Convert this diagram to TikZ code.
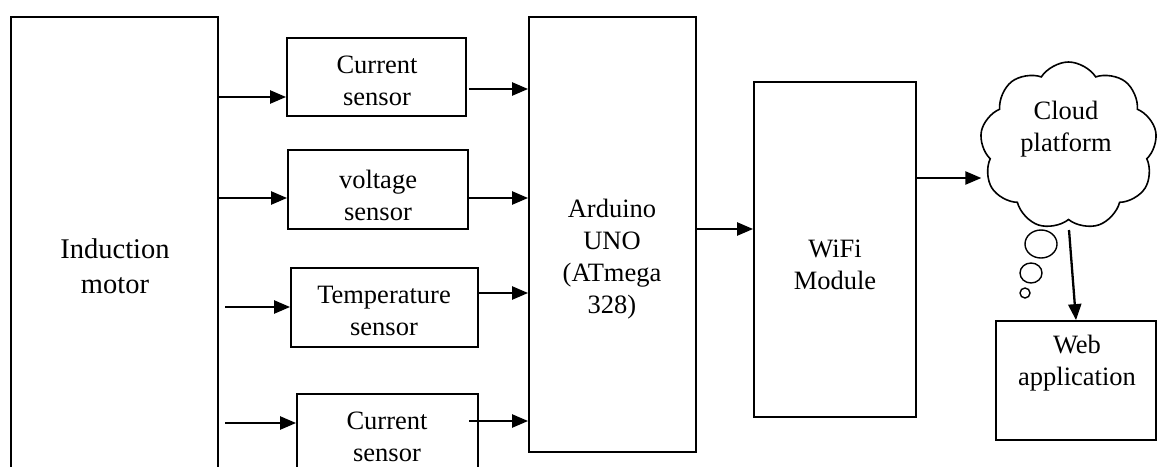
\documentclass[tikz,border=0pt]{standalone}
\usepackage{fontspec}
\setmainfont{Liberation Serif}
\usetikzlibrary{arrows.meta,shapes.symbols,shapes.geometric}
\begin{document}
\begin{tikzpicture}[x=1pt,y=-1pt,
  box/.style={draw,line width=1.8pt,inner sep=0pt},
  lbl/.style={align=center,inner sep=0pt,font=\fontsize{26.5}{32}\selectfont},
  arr/.style={line width=2.3pt,-{Triangle[length=16pt,width=13pt]}},
  bubble/.style={draw,ellipse,line width=1.4pt,inner sep=0pt}]
\path[use as bounding box,clip] (0,0) rectangle (1158,466);
% boxes
\node[box,minimum width=207pt,minimum height=473pt] (motor) at (114.5,253.5) {};
\node[box,minimum width=179pt,minimum height=78pt] (cs1) at (376.5,77) {};
\node[box,minimum width=180pt,minimum height=79pt] (volt) at (378,189.5) {};
\node[box,minimum width=187pt,minimum height=79pt] (temp) at (384.5,307.5) {};
\node[box,minimum width=181pt,minimum height=96pt] (cs2) at (387.5,442) {};
\node[box,minimum width=167pt,minimum height=435pt] (ard) at (612.5,234.5) {};
\node[box,minimum width=162pt,minimum height=335pt] (wifi) at (835,249.5) {};
\node[box,minimum width=160pt,minimum height=119pt] (web) at (1076,380.5) {};
\node[draw,cloud,cloud puffs=9,cloud puff arc=115,cloud ignores aspect,line width=1.6pt,
  minimum width=177pt,minimum height=168pt,inner sep=0pt] (cloud) at (1068.5,146) {};
\node[bubble,minimum width=32pt,minimum height=28pt] (b1) at (1041,244) {};
\node[bubble,minimum width=22pt,minimum height=20pt] (b2) at (1031,273) {};
\node[bubble,minimum width=10pt,minimum height=10pt] (b3) at (1025,293) {};
% labels
\node[lbl,font=\fontsize{28.5}{35}\selectfont] (tmotor) at (115,266) {Induction\\motor};
\node[lbl] (tcs1) at (377,81) {Current\\sensor};
\node[lbl] (tvolt) at (378,195) {voltage\\sensor};
\node[lbl] (ttemp) at (384,311) {Temperature\\sensor};
\node[lbl] (tcs2) at (387,437) {Current\\sensor};
\node[lbl] (tard) at (612,259) {Arduino\\UNO\\(ATmega\\328)};
\node[lbl] (twifi) at (835,265) {WiFi\\Module};
\node[lbl] (tweb) at (1077,363) {Web\\application};
\node[lbl] (tcloud) at (1066,129) {Cloud\\platform};
% connector start points
\coordinate (m1) at (218,97);
\coordinate (m2) at (218,198);
\coordinate (m3) at (225,307);
\coordinate (m4) at (225,423);
\coordinate (o1) at (469,89);
\coordinate (o2) at (468,198);
\coordinate (o3) at (478,293);
\coordinate (o4) at (469,421);
\coordinate (a1) at (696,229);
\coordinate (w1) at (916,178);
\coordinate (c1) at (1069,230);
% connectors
\draw[arr] (m1) -- (m1 -| cs1.west);
\draw[arr] (m2) -- (m2 -| volt.west);
\draw[arr] (m3) -- (m3 -| temp.west);
\draw[arr] (m4) -- (m4 -| cs2.west);
\draw[arr] (o1) -- (o1 -| ard.west);
\draw[arr] (o2) -- (o2 -| ard.west);
\draw[arr] (o3) -- (o3 -| ard.west);
\draw[arr] (o4) -- (o4 -| ard.west);
\draw[arr] (a1) -- (a1 -| wifi.west);
\draw[arr] (w1) -- (w1 -| cloud.west);
\draw[arr] (c1) -- (web.north);
\end{tikzpicture}
\end{document}
